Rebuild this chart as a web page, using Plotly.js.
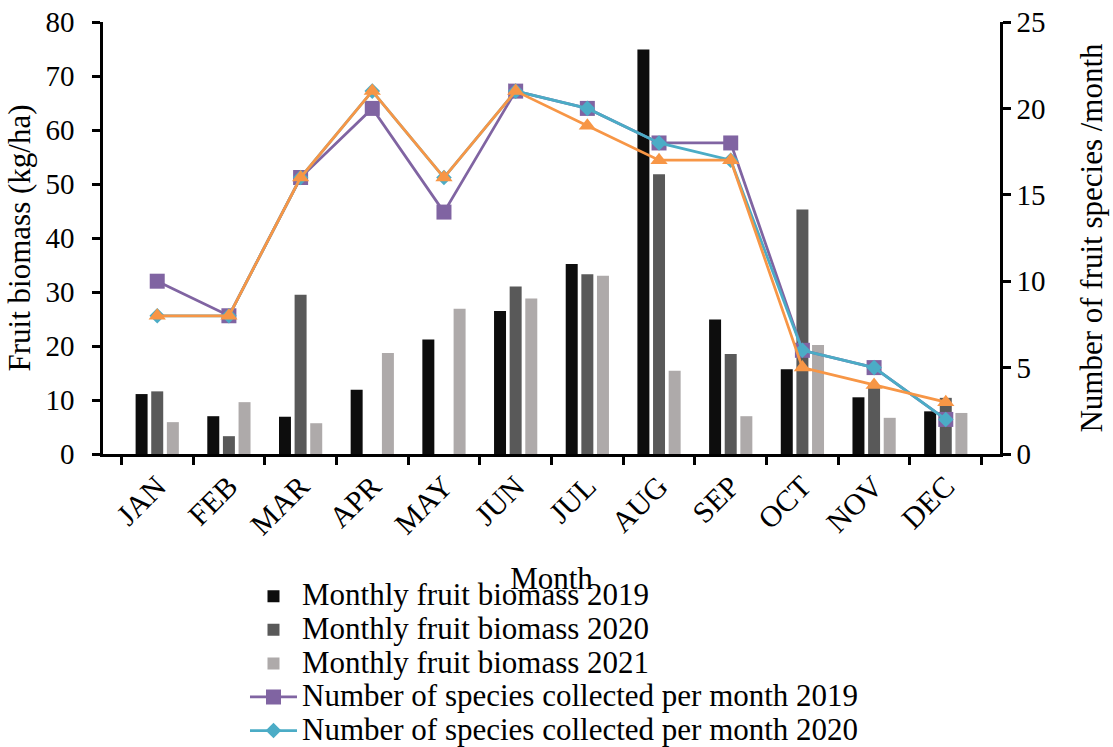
<!DOCTYPE html>
<html><head><meta charset="utf-8">
<script src="https://cdn.plot.ly/plotly-3.0.1.min.js"></script>
<style>html,body{margin:0;padding:0;background:#fff}#chart{width:1113px;height:747px}</style>
</head><body><div id="chart"></div>
<script>
const months = ["JAN","FEB","MAR","APR","MAY","JUN","JUL","AUG","SEP","OCT","NOV","DEC"];
const biomass2019 = [11.1, 7.0, 6.9, 11.9, 21.2, 26.5, 35.2, 74.9, 24.9, 15.7, 10.5, 7.9];
const biomass2020 = [11.6, 3.3, 29.5, 0, 0, 31.0, 33.3, 51.8, 18.5, 45.3, 12.8, 10.4];
const biomass2021 = [5.9, 9.6, 5.7, 18.7, 26.9, 28.8, 33.0, 15.4, 7.0, 20.2, 6.7, 7.6];
const species2019 = [10, 8, 16, 20, 14, 21, 20, 18, 18, 6, 5, 2];
const species2020 = [8, 8, 16, 21, 16, 21, 20, 18, 17, 6, 5, 2];
const species2021 = [8, 8, 16, 21, 16, 21, 19, 17, 17, 5, 4, 3];
const seriesNames = [
  "Monthly fruit biomass 2019",
  "Monthly fruit biomass 2020",
  "Monthly fruit biomass 2021",
  "Number of species collected per month 2019",
  "Number of species collected per month 2020",
  "Number of species collected per month 2021"
];

const font = "Liberation Serif, Times New Roman, serif";
const big = n => '<span style="font-size:31px">' + n + '</span>';
const traces = [
  {type:"bar", name:big(seriesNames[0]), x:months, y:biomass2019, marker:{color:"#0d0d0d"}},
  {type:"bar", name:big(seriesNames[1]), x:months, y:biomass2020, marker:{color:"#595959"}},
  {type:"bar", name:big(seriesNames[2]), x:months, y:biomass2021, marker:{color:"#aeaaaa"}},
  {type:"scatter", mode:"lines+markers", name:big(seriesNames[3]), x:months, y:species2019, yaxis:"y2",
   line:{color:"#8064a2", width:2.75}, marker:{symbol:"square", size:15, color:"#8064a2"}},
  {type:"scatter", mode:"lines+markers", name:big(seriesNames[4]), x:months, y:species2020, yaxis:"y2",
   line:{color:"#4bacc6", width:2.75}, marker:{symbol:"diamond", size:12, color:"#4bacc6"}},
  {type:"scatter", mode:"lines+markers", name:big(seriesNames[5]), x:months, y:species2021, yaxis:"y2",
   line:{color:"#f79646", width:2.75}, marker:{symbol:"triangle-up", size:15, color:"#f79646"}, showlegend:false}
];
const layout = {
  width:1113, height:747,
  margin:{l:103, r:113, t:22, b:293, autoexpand:false},
  paper_bgcolor:"#fff", plot_bgcolor:"#fff",
  font:{family:font, color:"#000", size:29},
  barmode:"group", bargap:0.346, bargroupgap:0.233,
  showlegend:true,
  legend:{x:0.1583, xanchor:"left", y:-0.279, yanchor:"top", orientation:"v", itemwidth:47,
    font:{family:font, size:23.5}, tracegroupgap:0, bgcolor:"rgba(0,0,0,0)"},
  xaxis:{type:"category", showline:true, linecolor:"#000", linewidth:2.5, ticks:"outside", tickson:"boundaries", ticklen:8, tickwidth:2.5, tickcolor:"#000",
    tickangle:-45, tickfont:{family:font, size:30}, showgrid:false,
    title:{text:"Month", font:{family:font, size:31}, standoff:28}},
  yaxis:{range:[0,80], dtick:10, showline:true, linecolor:"#000", linewidth:2.5, ticks:"outside", ticklen:8, tickwidth:2.5, tickcolor:"#000",
    ticklabelstandoff:12, showgrid:false, zeroline:false, tickfont:{family:font, size:29},
    title:{text:"Fruit biomass (kg/ha)", font:{family:font, size:31}, standoff:6}},
  yaxis2:{range:[0,25], dtick:5, overlaying:"y", side:"right", showline:true, linecolor:"#000", linewidth:2.5, ticks:"outside", ticklen:8, tickwidth:2.5, tickcolor:"#000",
    showgrid:false, zeroline:false, tickfont:{family:font, size:29},
    title:{text:"Number of fruit species /month", font:{family:font, size:31}, standoff:36}}
};
Plotly.newPlot("chart", traces, layout, {displayModeBar:false});
</script></body></html>
